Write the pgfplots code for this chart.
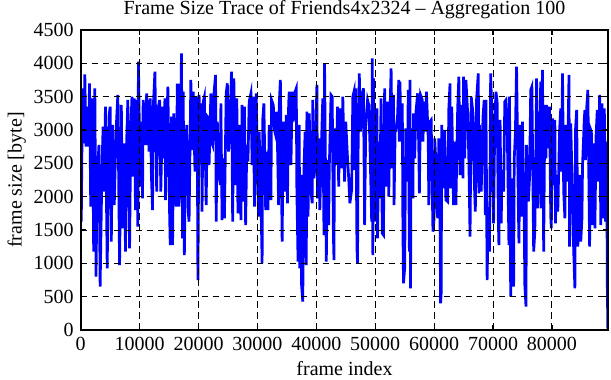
\documentclass[border=0pt]{standalone}
\usepackage{fontspec}
\setmainfont{Liberation Serif}
\usepackage{pgfplots}
\pgfplotsset{compat=1.18}
\usepackage{pgfplotstable}
\definecolor{traceblue}{RGB}{0,0,255}
\pgfplotstableread{
x y
0 2925
100 1625
300 3625
600 2800
700 3835
900 2750
1100 3350
1300 2750
1500 3700
1700 1850
2000 3475
2200 1175
2400 3625
2600 800
2800 2300
3100 2775
3300 650
3600 2375
3800 3050
4000 2075
4200 3350
4500 925
4800 3200
5000 3350
5200 1325
5400 3075
5700 1875
6000 2975
6300 3525
6600 975
6900 3375
7100 1525
7400 2800
7600 1175
7800 2825
8000 3450
8300 1225
8500 3000
8700 3500
8900 2300
9100 3475
9300 1800
9500 3450
9700 1550
9800 4025
10100 2150
10300 3125
10500 1975
10600 3450
10900 2775
11200 3550
11300 2775
11500 3450
11600 2675
11800 3475
12000 2325
12200 1800
12300 3300
12600 3875
12900 2075
13100 3300
13400 3450
13600 2075
13900 3350
14000 2575
14300 3475
14400 1950
14600 3025
14800 3650
15100 1700
15200 1275
15400 3200
15600 1275
15800 3250
16100 2375
16200 1850
16400 3675
16600 3675
16700 1850
17000 3025
17100 4150
17300 1375
17400 3575
17600 1125
17800 2525
18000 3075
18100 2600
18300 1725
18400 1625
18700 3750
18900 2700
19100 3575
19400 2375
19600 3500
19800 2825
19900 750
20100 3525
20300 2950
20500 3400
20600 1775
20800 3425
21000 3500
21300 1875
21500 3200
21700 3175
21800 2475
22100 3550
22200 2825
22400 2775
22600 3525
22900 3825
23000 1625
23200 3125
23400 2475
23700 2175
23800 3400
24000 1650
24200 2575
24400 1675
24700 3550
24900 3700
25100 2675
25400 3250
25600 3875
25800 1625
26000 3775
26300 2175
26500 3475
26700 1750
27000 3075
27200 1650
27400 3375
27600 1925
27800 3350
28000 1575
28200 2775
28400 2525
28600 3425
28900 3550
29100 2475
29300 3500
29500 1850
29800 3550
30000 2475
30200 1700
30300 2975
30600 1975
30800 1000
30900 3150
31100 3400
31400 1800
31600 2675
31800 1800
32000 3075
32300 1950
32400 3450
32700 3375
32900 3000
33100 2925
33300 3275
33600 1875
33700 3375
33900 3750
34200 1325
34400 3125
34600 2075
34900 3225
35100 1900
35300 3375
35400 3575
35700 2475
35900 3575
36100 3125
36300 3550
36600 3625
36700 2075
36900 1025
37100 3075
37200 925
37400 2325
37500 675
37700 425
37900 2425
38100 2975
38300 975
38400 3275
38600 1700
38800 3250
39100 2075
39300 1900
39400 3450
39600 2275
39800 2475
40100 3675
40200 1975
40400 2875
40600 1800
40900 2875
41100 3475
41300 1425
41400 4000
41700 1025
41900 2550
42100 1575
42200 2425
42500 3525
42700 3500
42900 1425
43000 1050
43100 3025
43400 2475
43600 3350
43800 2150
44000 3325
44300 2425
44500 3500
44800 2225
45000 3125
45300 2575
45500 2275
45700 1900
46000 2100
46200 3500
46400 3575
46500 2400
46700 3625
46900 1225
47000 1000
47100 2700
47300 3850
47500 2975
47800 3525
48000 3625
48200 1575
48400 3100
48700 3450
48900 3375
49100 2800
49400 1625
49500 4075
49600 1125
49700 3775
49900 1625
50000 2925
50300 3325
50400 1375
50600 2825
50700 1975
50900 2850
51000 3475
51200 1450
51400 1425
51600 3625
51800 2150
52100 3425
52300 2000
52500 3225
52700 3925
52900 2425
53100 3525
53200 1875
53400 3075
53500 2975
53800 3225
54000 3750
54100 2825
54200 3725
54400 2825
54600 3400
54700 1550
54800 700
55000 925
55200 3025
55500 2225
55600 3600
55800 1175
55900 3750
56000 625
56100 3025
56400 1975
56500 3250
56700 2575
56900 3250
57200 3550
57400 2725
57500 2050
57700 3525
58000 3450
58100 2825
58300 3425
58500 2975
58700 3575
59000 2875
59100 1875
59300 3125
59500 3150
59800 1475
60000 1675
60100 2875
60300 2525
60600 1675
60800 2875
61000 1725
61100 400
61200 550
61300 3075
61600 2125
61800 3000
62000 1950
62300 1925
62500 3325
62700 3700
62800 2125
63000 3350
63300 1875
63500 2825
63700 1875
64000 3325
64200 3800
64400 2325
64600 3375
64900 2275
65000 3800
65200 2575
65400 3750
65700 3250
65900 2550
66100 1400
66300 3500
66600 3250
66800 2275
67000 1775
67200 3450
67500 3850
67600 2050
67700 3075
67900 2625
68000 2075
68300 3200
68500 3450
68700 1725
68800 3450
69000 750
69200 1775
69400 1175
69500 2375
69600 3850
69800 3250
70100 1600
70300 3125
70500 3575
70700 3425
70900 1650
71000 1275
71200 3150
71400 1600
71500 2400
71800 2075
72000 3425
72200 3450
72400 3125
72700 1275
72800 3500
73000 500
73200 2275
73500 650
73600 2550
73800 2975
74000 3950
74300 1850
74400 1300
74600 3075
74800 1700
75000 3125
75300 1700
75400 675
75600 350
75700 2775
76000 1925
76200 2275
76400 3600
76600 3650
76900 1175
77100 1475
77300 2900
77400 3775
77600 1825
77900 2875
78100 3725
78200 1825
78300 3350
78400 3900
78600 1175
78800 3375
79000 2575
79100 3375
79400 2725
79600 3350
79800 1700
79900 1525
80000 2600
80100 3175
80400 2175
80500 3150
80600 1600
80800 2325
81000 1775
81300 3000
81500 3325
81600 2375
81800 3850
82000 2075
82200 1675
82400 3075
82600 2225
82900 3825
83000 1250
83200 3100
83400 2325
83700 1175
83900 625
84000 3000
84200 3300
84400 1250
84700 2325
84900 1325
85100 1675
85200 2475
85500 3175
85600 3300
85700 2550
85900 3325
86100 3600
86400 1250
86500 3025
86700 2975
86900 1575
87000 2800
87300 1525
87500 2925
87700 3300
87900 2225
88100 3525
88300 1575
88500 3400
88600 1675
88900 3325
89100 1625
89300 2825
89400 700
89500 0
}\tracedata
\begin{document}
\fontsize{10}{12}\selectfont
\begin{tikzpicture}
\useasboundingbox (-40.35pt,-25pt) rectangle (265.15pt,165pt);
\begin{axis}[
  at={(0pt,0pt)}, anchor=south west,
  scale only axis, width=263.8pt, height=150pt,
  xmin=0, xmax=89570, ymin=0, ymax=4500,
  xtick={0,10000,...,80000},
  ytick={0,500,...,4500},
  scaled ticks=false,
  /pgf/number format/assume math mode=true,
  /pgf/number format/1000 sep={},
  tick label style={font=\fontsize{10}{12}\selectfont},
  label style={font=\fontsize{10}{12}\selectfont},
  title style={font=\fontsize{10}{12}\selectfont, yshift=-4pt},
  title={Frame Size Trace of Friends4x2324 -- Aggregation 100},
  xlabel={frame index},
  ylabel={frame size [byte]},
  xlabel style={yshift=1.5pt},
  ylabel style={yshift=-3pt},
  axis line style={line width=1pt},
  tick style={black, line width=0.6pt},
  major tick length=2.5pt,
  tick align=inside,
  grid=major,
  major grid style={black, line width=0.5pt, dash pattern=on 3.3pt off 2.2pt},
  axis on top=true,
]
\addplot[traceblue, line width=1.35pt, line join=miter, mark=none] table[x=x,y=y] {\tracedata};
\end{axis}
\end{tikzpicture}
\end{document}
